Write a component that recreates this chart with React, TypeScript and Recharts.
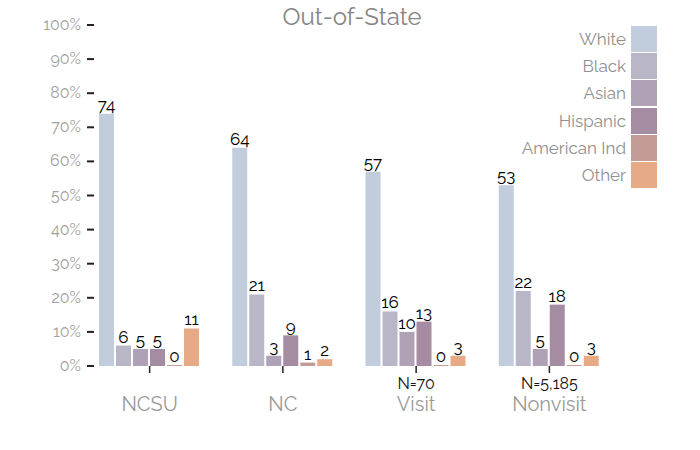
import React from 'react';
import { BarChart, Bar, XAxis, YAxis, Legend, LabelList } from 'recharts';

const groups = ['NCSU', 'NC', 'Visit', 'Nonvisit'];
const groupN = ['', '', 'N=70', 'N=5,185'];

const races = ['White', 'Black', 'Asian', 'Hispanic', 'American Ind', 'Other'];
const white = [74, 64, 57, 53];
const black = [6, 21, 16, 22];
const asian = [5, 3, 10, 5];
const hispanic = [5, 9, 13, 18];
const amInd = [0.3, 1, 0.3, 0.3];
const other = [11, 2, 3, 3];

const yTicks = [0, 10, 20, 30, 40, 50, 60, 70, 80, 90, 100];

const COLORS = ['#c1cddc', '#b9b6c8', '#b0a2b6', '#a58ca3', '#c49c97', '#e6aa86'];
const FONT = 'Raleway, Lato, "Open Sans", sans-serif';

const seriesValues = [white, black, asian, hispanic, amInd, other];
const data = groups.map((g, i) => {
  const row: any = { group: g, n: groupN[i] };
  races.forEach((r, j) => {
    row[r] = seriesValues[j][i];
  });
  return row;
});

const YTick = ({ x, y, payload }: any) => (
  <g>
    <text x={x} y={y} dy={5} textAnchor="end" fill="#a0a0a0" fontSize={16} fontFamily={FONT}>
      {payload.value}%
    </text>
    <line x1={x + 6} x2={x + 13} y1={y} y2={y} stroke="#222" strokeWidth={2} />
  </g>
);

const XTick = ({ x, y, payload, index }: any) => (
  <g>
    <line x1={x} x2={x} y1={y} y2={y + 7} stroke="#222" strokeWidth={1.5} />
    {groupN[index] && (
      <text x={x} y={y + 23} textAnchor="middle" fill="#111" fontSize={16} fontFamily={FONT}>
        {groupN[index]}
      </text>
    )}
    <text x={x} y={y + 45} textAnchor="middle" fill="#9a9a9a" fontSize={20} fontFamily={FONT}>
      {payload.value}
    </text>
  </g>
);

const renderLegend = () => (
  <div style={{ display: 'flex', flexDirection: 'column', alignItems: 'flex-end' }}>
    {races.map((r, i) => (
      <div key={r} style={{ display: 'flex', alignItems: 'center', height: 27.3 }}>
        <span style={{ color: '#909090', fontSize: 17, fontFamily: FONT, marginRight: 5 }}>{r}</span>
        <span style={{ width: 26, height: 26, background: COLORS[i], display: 'inline-block' }} />
      </div>
    ))}
  </div>
);

export default function App() {
  return (
    <div style={{ position: 'absolute', left: 0, top: 0, width: 700, height: 450, background: '#fff' }}>
      <div
        style={{
          position: 'absolute',
          top: 2,
          left: 0,
          width: 704,
          textAlign: 'center',
          fontFamily: FONT,
          fontSize: 24,
          lineHeight: '30px',
          color: '#858585',
        }}
      >
        Out-of-State
      </div>
      <BarChart
        width={700}
        height={450}
        data={data}
        margin={{ top: 25, right: 84, bottom: 0, left: 0 }}
        barCategoryGap={16}
        barGap={2}
      >
        <YAxis
          domain={[0, 100]}
          ticks={yTicks}
          width={83}
          axisLine={false}
          tickLine={false}
          tickSize={0}
          tickMargin={2}
          tick={<YTick />}
          interval={0}
        />
        <XAxis
          dataKey="group"
          height={84}
          axisLine={false}
          tickLine={false}
          tickSize={0}
          tickMargin={0}
          tick={<XTick />}
          interval={0}
        />
        <Legend
          layout="horizontal"
          verticalAlign="middle"
          align="center"
          content={renderLegend}
          wrapperStyle={{ top: 25, left: 'auto', right: 43, width: 'auto', height: 'auto' }}
        />
        {races.map((r, i) => (
          <Bar key={r} dataKey={r} fill={COLORS[i]} isAnimationActive={false}>
            <LabelList
              dataKey={r}
              position="top"
              offset={3}
              fill="#000"
              stroke="none"
              fontSize={17}
              fontFamily={FONT}
              formatter={(v: any) => Math.round(Number(v))}
            />
          </Bar>
        ))}
      </BarChart>
    </div>
  );
}
